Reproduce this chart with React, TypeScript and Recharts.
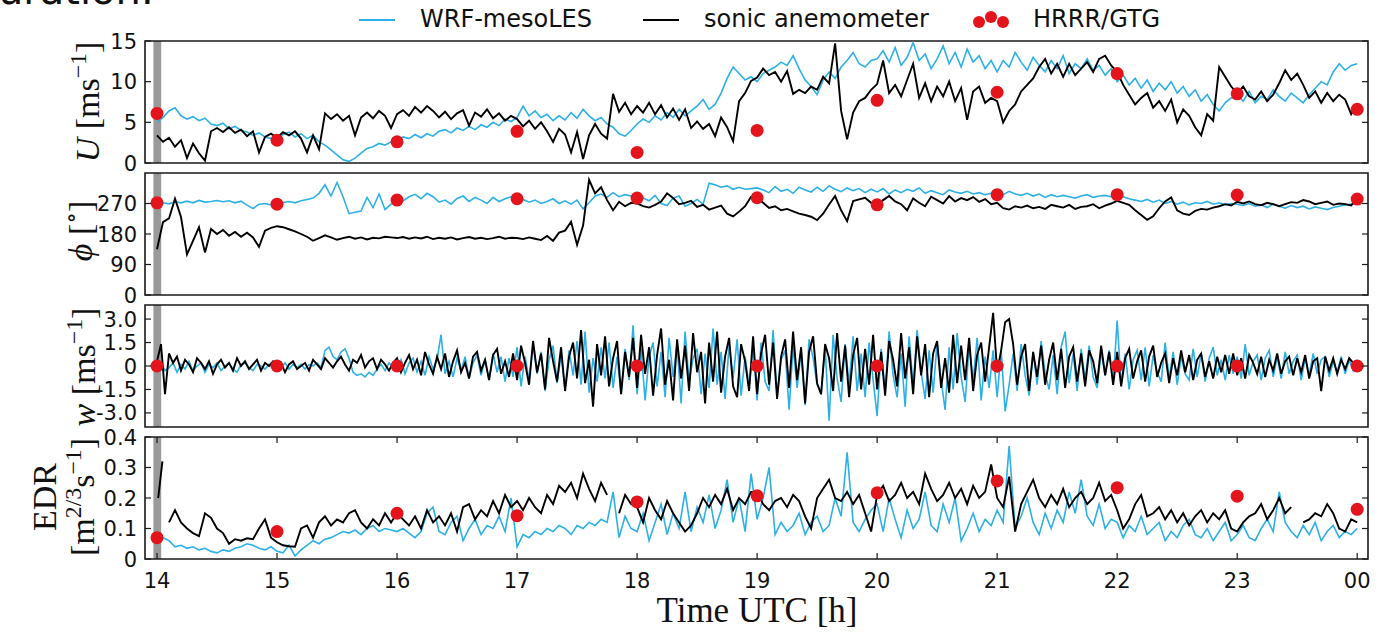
import React from "react";
import { ComposedChart, Line, Scatter, XAxis, YAxis, ReferenceArea } from "recharts";

// hours on the shared time axis (24 is printed as "00")
const HOURS = [14, 15, 16, 17, 18, 19, 20, 21, 22, 23, 24];

// U [m/s], 3-minute steps from 14:00 to 24:00 (one row per hour)
const U_WRF = [
  5.0, 5.6, 6.4, 6.8, 5.8, 5.4, 5.7, 5.2, 5.5, 4.8, 4.6, 4.9, 4.2, 4.5, 4.0, 3.8, 3.4, 3.7, 3.2, 3.0,
  2.9, 3.5, 3.8, 3.2, 3.6, 3.0, 3.4, 2.6, 2.2, 1.6, 1.0, 0.4, 0.2, 0.6, 1.2, 1.8, 2.0, 2.4, 2.2, 2.6,
  2.8, 3.2, 3.0, 3.5, 3.1, 3.6, 3.3, 3.9, 4.1, 3.7, 4.3, 4.0, 4.5, 4.1, 4.7, 4.4, 5.0, 4.6, 5.4, 5.1,
  5.6, 7.0, 5.8, 6.4, 5.6, 6.0, 5.2, 5.8, 5.3, 6.2, 5.5, 6.6, 5.8, 5.2, 5.6, 4.8, 4.4, 3.6, 3.3, 4.0,
  4.8, 5.4, 5.0, 5.8, 5.3, 6.2, 5.6, 6.6, 5.8, 6.4, 7.0, 7.8, 6.6, 7.2, 8.6, 10.4, 11.8, 11.0, 10.2, 10.6,
  10.0, 11.0, 11.4, 11.8, 12.4, 12.0, 13.2, 11.6, 10.2, 9.4, 8.4, 10.2, 11.2, 10.4, 11.8, 12.6, 13.6, 12.2, 11.8, 12.6,
  12.8, 13.8, 12.4, 14.2, 12.0, 13.0, 14.8, 12.6, 13.4, 11.6, 12.8, 14.4, 12.2, 13.6, 11.8, 14.0, 12.4, 13.2, 11.6, 12.6,
  11.2, 12.6, 11.8, 13.6, 12.4, 11.4, 13.0, 12.0, 11.2, 12.6, 11.6, 13.2, 11.0, 12.2, 11.6, 12.8, 11.4, 12.0, 10.8, 11.6,
  10.0, 10.8, 9.6, 10.4, 9.2, 10.2, 8.8, 9.8, 9.0, 10.0, 8.6, 9.4, 8.2, 9.0, 7.6, 8.4, 7.2, 6.4, 7.4, 8.0,
  8.4, 7.6, 8.8, 7.4, 8.2, 7.8, 9.0, 8.2, 7.6, 8.6, 8.0, 7.4, 8.4, 9.2, 10.0, 9.6, 11.2, 12.2, 11.4, 12.0,
  12.2,
];
const U_SONIC = [
  3.4, 2.6, 3.1, 2.0, 2.8, 0.6, 2.4, 1.2, 0.3, 3.9, 4.3, 3.8, 4.4, 3.7, 4.1, 3.3, 3.9, 1.3, 3.2, 3.6,
  3.1, 3.8, 3.4, 3.9, 3.0, 1.3, 3.4, 1.7, 6.1, 5.4, 6.0, 5.2, 5.8, 3.4, 5.6, 6.2, 5.5, 6.4, 5.8, 4.3,
  6.0, 6.5, 5.8, 6.9, 6.2, 7.0, 6.4, 5.6, 6.3, 5.4, 6.1, 6.5, 4.6, 6.2, 5.7, 6.6, 5.5, 6.1, 5.2, 5.8,
  5.4, 4.5, 5.2, 4.2, 5.0, 3.9, 2.6, 4.2, 3.5, 1.3, 3.8, 0.5, 3.4, 4.8, 3.6, 3.0, 8.5, 6.3, 7.4, 6.0,
  7.0, 6.2, 7.4, 6.0, 7.1, 5.6, 6.7, 5.3, 6.6, 4.3, 5.1, 4.2, 4.8, 3.3, 5.6, 4.4, 2.7, 7.6, 8.6, 10.1,
  10.5, 11.6, 10.8, 11.2, 10.0, 11.3, 8.5, 9.0, 8.6, 9.4, 9.0, 10.6, 9.8, 14.7, 6.4, 2.9, 6.2, 7.6, 8.0, 9.0,
  9.7, 12.6, 8.6, 9.6, 8.2, 10.2, 12.2, 8.0, 9.8, 7.6, 9.4, 8.2, 10.0, 7.6, 9.2, 5.3, 8.8, 9.4, 7.4, 8.0,
  7.6, 5.0, 6.4, 7.2, 8.8, 9.6, 10.4, 11.8, 12.8, 11.0, 12.2, 10.6, 12.2, 10.8, 11.6, 12.4, 11.2, 12.8, 13.2, 12.0,
  11.2, 9.6, 8.4, 7.2, 8.0, 8.6, 6.8, 7.6, 6.4, 7.8, 5.0, 6.6, 5.8, 4.4, 3.4, 6.0, 5.2, 11.8, 10.6, 9.4,
  8.6, 9.4, 8.2, 7.8, 8.8, 7.6, 8.4, 9.8, 11.4, 10.2, 11.0, 9.6, 8.0, 8.8, 7.4, 8.6, 7.6, 8.4, 7.8, 6.0,
  7.2,
];

// wind direction [deg], 3-minute steps
const PHI_WRF = [
  267, 272, 269, 275, 272, 277, 272, 279, 274, 276, 279, 275, 278, 272, 277, 265, 255, 268, 270, 266,
  270, 273, 276, 272, 278, 282, 286, 300, 325, 292, 332, 290, 240, 244, 248, 288, 258, 298, 252, 268,
  282, 278, 290, 297, 284, 300, 290, 274, 280, 268, 285, 292, 276, 288, 280, 270, 288, 276, 284, 290,
  290, 282, 274, 280, 270, 276, 284, 270, 278, 268, 280, 254, 272, 292, 298, 288, 302, 290, 296, 292,
  292, 286, 278, 294, 270, 264, 286, 292, 262, 270, 282, 268, 330, 325, 318, 322, 312, 318, 312, 314,
  316, 310, 302, 320, 306, 312, 300, 318, 310, 304, 318, 306, 322, 312, 305, 316, 308, 314, 302, 312,
  304, 314, 298, 310, 302, 312, 306, 316, 300, 308, 302, 296, 310, 304, 300, 306, 298, 302, 296, 300,
  302, 296, 306, 298, 294, 300, 292, 298, 288, 296, 290, 294, 290, 286, 292, 296, 288, 292, 294, 290,
  294, 290, 284, 280, 276, 282, 274, 280, 270, 276, 268, 274, 266, 272, 270, 276, 268, 272, 266, 270,
  268, 264, 270, 262, 266, 258, 268, 262, 256, 264, 258, 262, 254, 260, 256, 252, 258, 262, 266, 268,
  268,
];
const PHI_SONIC = [
  135, 215, 226, 284, 230, 120, 160, 200, 125, 195, 180, 192, 175, 186, 172, 184, 170, 142, 190, 198,
  203, 200, 194, 188, 180, 172, 160, 168, 176, 170, 163, 168, 172, 166, 170, 164, 169, 167, 172, 170,
  168, 171, 166, 170, 167, 172, 165, 169, 166, 170, 164, 168, 171, 166, 169, 165, 168, 172, 166, 169,
  168, 165, 170, 166, 162, 174, 160, 184, 190, 216, 148, 205, 340, 300, 318, 280, 250, 275, 262, 272,
  270, 262, 258, 266, 276, 300, 286, 268, 272, 278, 260, 266, 252, 258, 264, 240, 232, 246, 262, 290,
  287, 272, 257, 262, 250, 254, 247, 240, 236, 231, 221, 240, 267, 292, 250, 218, 277, 282, 287, 272,
  264, 280, 292, 276, 268, 250, 285, 272, 262, 290, 280, 270, 292, 276, 286, 280, 289, 275, 283, 268,
  272, 256, 252, 262, 258, 264, 256, 260, 254, 266, 262, 258, 266, 254, 260, 262, 268, 256, 264, 270,
  278, 272, 266, 250, 236, 222, 232, 256, 276, 288, 250, 240, 236, 248, 254, 252, 258, 262, 268, 264,
  275, 270, 276, 268, 265, 272, 268, 262, 268, 274, 272, 280, 276, 268, 272, 276, 266, 270, 268, 264,
  288,
];

// vertical velocity w [m/s], 2-minute steps
const W_WRF = [
  -0.1, 0.2, -0.3, -0.1, 0.2, -0.4, 0.1, -0.2, 0.3, -0.3, 0.0, 0.2, -0.4, 0.1, -0.1, 0.2, -0.3, 0.0, 0.2, -0.2, -0.4, 0.1, 0.2, -0.1, -0.3, 0.1, 0.0, -0.2, 0.1, -0.1,
  0.0, -0.1, 0.2, -0.2, 0.1, -0.1, 0.1, -0.2, 0.1, 0.0, 0.2, -0.1, 1.0, 1.2, 0.6, 0.4, 0.9, 1.1, 0.5, -0.4, -0.6, -0.5, -0.7, -0.4, -0.6, -0.2, 0.1, -0.3, 0.2, -0.1,
  -0.2, 0.4, -0.5, 0.2, 0.5, -0.4, 0.3, -0.6, 0.6, -0.2, 0.4, 2.0, -0.5, 0.3, -0.7, 0.5, -0.3, 0.6, -0.8, 0.2, 0.7, -0.6, 0.4, -0.9, 0.8, -0.4, 0.6, -1.0, 0.5, -0.7,
  1.2, -1.3, 0.6, -0.9, 1.4, -0.5, 0.9, -1.6, 0.4, 1.3, -1.1, 0.7, -1.5, 1.0, -0.6, 1.6, -1.2, 2.2, -1.7, 0.5, -1.0, 1.2, -0.8, 1.5, -1.4, 0.6, -1.8, 1.1, -0.9, 2.6,
  -1.8, 1.1, -2.2, 0.6, 1.5, -1.3, 0.9, -2.0, 1.8, -0.7, 1.4, -2.4, 2.2, -1.0, 0.5, 1.1, -1.8, 0.8, -1.4, 2.4, -1.2, 0.9, -2.1, 1.3, -0.8, 1.7, -1.9, 0.6, -1.3, 1.2,
  -2.2, 1.5, -1.0, -1.6, 2.3, -1.9, 0.4, 1.0, -2.8, 1.3, -1.4, 0.9, -2.5, 1.7, 0.5, -1.2, -1.7, 1.2, -3.5, 2.0, -0.8, -2.3, 1.4, -1.2, 1.9, -1.6, 0.8, -2.0, 1.5, -0.9,
  -3.2, 1.1, -1.6, 2.2, -0.6, -2.0, 0.8, -2.6, 1.9, -1.3, 2.3, -0.4, -2.1, 1.0, -1.7, 1.5, -0.9, -2.8, 1.2, -1.5, 2.1, -0.7, -2.3, 1.3, -1.0, 1.8, -2.2, 0.6, -1.4, 1.0,
  -2.0, 1.0, -2.9, -1.2, 0.8, -1.6, 1.4, -0.6, -1.9, 0.9, -1.2, 1.6, -0.5, -1.5, 0.7, -1.8, 1.2, 2.2, -1.1, 0.8, -1.6, 1.1, -0.9, 1.3, -0.7, -1.4, 0.9, -0.6, 1.0, -1.1,
  2.9, -1.2, 0.8, -1.5, 0.4, 1.0, -0.9, 1.2, -1.3, 0.7, -0.4, -1.0, 1.5, -0.8, 0.9, -1.2, 0.6, -0.5, -0.9, 1.1, -0.7, 0.8, -1.0, 0.5, 1.2, -0.6, 0.4, -0.9, 0.7, -0.5,
  0.6, -0.8, 1.4, -0.6, 0.3, 0.7, -0.9, 0.5, 1.0, -0.7, 0.6, -0.8, 0.9, -0.5, 0.3, 0.7, -0.9, 0.5, -0.6, 0.8, -0.5, 0.4, 0.6, -0.7, 0.3, -0.4, 0.6, -0.5, 0.4, -0.3,
  0.2,
];
const W_SONIC = [
  0.3, 1.4, -1.8, 0.8, 0.2, 0.6, -0.3, 0.4, 0.1, -0.4, 0.5, 0.2, -0.2, 0.3, -0.5, 0.1, 0.4, -0.1, 0.2, -0.3, 0.5, 0.0, 0.3, -0.2, 0.1, 0.4, -0.3, 0.2, 0.0, 0.3,
  -0.1, 0.2, -0.4, 0.1, 0.3, -0.2, 0.0, 0.2, -0.3, 0.4, 0.1, -0.2, 0.5, 0.2, -0.1, 0.3, 0.6, 0.1, -0.3, 0.4, 0.2, 0.7, -0.1, 0.3, 0.5, -0.2, 0.4, 0.1, -0.3, 0.2,
  0.5, -0.4, 0.2, 0.7, -0.2, 0.4, -0.6, 0.9, 0.1, -0.5, 0.6, -0.2, 0.8, -0.7, 0.3, 1.0, -0.4, 0.2, -0.8, 0.6, 0.9, -0.3, 0.4, -0.9, 0.7, 1.1, -0.5, 0.3, -0.7, 0.8,
  -0.9, 1.3, 0.2, -1.2, 1.6, -0.4, 0.8, -1.5, 1.8, 0.3, -1.0, 1.2, -1.6, 0.6, 1.5, -0.8, 2.3, -1.1, 0.4, -2.6, 1.4, -0.6, 1.9, -1.3, 0.5, 1.6, -1.8, 0.9, -0.7, 1.8,
  -1.4, 2.0, -0.5, 1.2, -1.9, 0.7, 2.4, -1.2, 0.4, -2.2, 1.7, -0.8, 1.3, -1.6, 2.1, -0.4, 0.9, -2.4, 1.5, -1.0, 2.2, -1.7, 0.6, 1.8, -1.3, -2.0, 1.4, 0.3, -1.6, 1.9,
  -1.8, 0.8, 2.0, -1.2, 1.5, -2.1, 0.6, 1.7, -1.4, 2.2, -0.9, 1.2, -2.4, 0.9, 1.9, -1.1, -1.8, 1.4, 0.5, -1.6, 2.1, -1.0, 1.3, -2.0, 0.7, 1.8, -1.5, 1.1, -1.2, 2.0,
  -1.5, 0.9, -1.9, 1.6, 0.4, -1.3, 2.1, -0.8, 1.2, -1.8, 1.9, -0.6, 1.4, -2.0, 0.8, 1.6, -1.4, 0.5, -1.7, 2.0, -1.1, 1.3, -0.9, 1.8, -1.6, 0.7, 1.5, -1.0, 1.2, 3.4,
  -0.4, 1.0, 2.8, 3.0, 1.4, -1.2, 0.6, 1.4, -1.6, 0.9, -0.7, 1.3, -1.2, 0.4, 1.5, -0.9, 1.1, -1.4, 0.6, 1.2, -1.0, 0.8, -1.3, 1.0, 0.3, -1.1, 1.3, -0.6, 0.9, -1.2,
  0.9, -1.3, 0.5, 1.1, -0.8, 0.3, 1.0, -1.0, 0.6, 1.3, -0.7, 0.2, 0.8, -1.1, 0.5, -0.6, 1.0, -0.4, 0.7, -0.9, 0.4, 0.8, -0.7, 0.3, -0.8, 0.6, -0.4, 0.7, -0.5, 0.8,
  -0.6, 0.5, -0.8, 0.7, 0.2, -0.5, 0.6, -0.7, 0.4, -0.3, 0.8, -0.5, 0.3, 0.6, -0.6, 0.5, -0.4, 0.7, -0.8, 0.3, 0.5, -1.6, 0.6, -0.3, 0.5, -0.5, 0.4, -0.2, 0.5, 0.2,
  0.1,
];

// EDR [m^2/3 s^-1], 3-minute steps (null = gap in the record)
const EDR_WRF = [
  0.05, 0.07, 0.06, 0.04, 0.045, 0.035, 0.04, 0.03, 0.035, 0.025, 0.02, 0.03, 0.025, 0.035, 0.04, 0.05, 0.045, 0.035, 0.03, 0.04,
  0.025, 0.02, 0.045, 0.01, 0.03, 0.045, 0.06, 0.05, 0.065, 0.07, 0.08, 0.09, 0.085, 0.095, 0.08, 0.1, 0.11, 0.09, 0.1, 0.095,
  0.09, 0.1, 0.085, 0.07, 0.09, 0.15, 0.17, 0.09, 0.08, 0.12, 0.14, 0.06, 0.1, 0.13, 0.08, 0.11, 0.1, 0.14, 0.09, 0.2,
  0.04, 0.08, 0.07, 0.09, 0.08, 0.1, 0.09, 0.11, 0.1, 0.08, 0.11, 0.1, 0.12, 0.11, 0.13, 0.12, 0.22, 0.07, 0.14, 0.1,
  0.09, 0.15, 0.06, 0.12, 0.18, 0.08, 0.15, 0.1, 0.22, 0.09, 0.17, 0.12, 0.21, 0.1, 0.16, 0.26, 0.12, 0.2, 0.09, 0.28,
  0.13, 0.2, 0.3, 0.08, 0.12, 0.09, 0.11, 0.15, 0.08, 0.12, 0.14, 0.09, 0.11, 0.2, 0.14, 0.35, 0.12, 0.09, 0.13, 0.16,
  0.18, 0.09, 0.2, 0.13, 0.07, 0.16, 0.1, 0.13, 0.22, 0.11, 0.09, 0.18, 0.12, 0.2, 0.06, 0.1, 0.15, 0.09, 0.13, 0.11,
  0.16, 0.12, 0.37, 0.1, 0.14, 0.2, 0.12, 0.08, 0.15, 0.1, 0.16, 0.12, 0.22, 0.15, 0.26, 0.14, 0.11, 0.18, 0.1, 0.13,
  0.12, 0.07, 0.11, 0.09, 0.14, 0.08, 0.1, 0.12, 0.06, 0.09, 0.07, 0.11, 0.13, 0.08, 0.07, 0.1, 0.06, 0.09, 0.12, 0.06,
  0.08, 0.11, 0.07, 0.06, 0.1, 0.13, 0.09, 0.22, 0.12, 0.09, 0.07, 0.11, 0.08, 0.12, 0.06, 0.09, 0.11, 0.07, 0.09, 0.08,
  0.1,
];
const EDR_SONIC = [
  null, null, 0.12, 0.16, 0.12, 0.1, 0.085, 0.075, 0.15, 0.135, 0.1, 0.085, 0.05, 0.065, 0.06, 0.068, 0.065, 0.1, 0.13, 0.07,
  0.055, 0.045, 0.042, 0.04, 0.1, 0.11, 0.07, 0.12, 0.14, 0.11, 0.13, 0.12, 0.15, 0.16, 0.12, 0.1, 0.13, 0.11, 0.15, 0.12,
  0.15, 0.13, 0.11, 0.14, 0.1, 0.16, 0.12, 0.14, 0.11, 0.15, 0.09, 0.17, 0.18, 0.13, 0.16, 0.14, 0.19, 0.15, 0.21, 0.17,
  0.19, 0.16, 0.2, 0.17, 0.15, 0.21, 0.18, 0.24, 0.22, 0.25, 0.2, 0.28, 0.23, 0.19, 0.25, 0.21, null, 0.15, 0.21, 0.18,
  0.17, 0.12, 0.2, 0.16, 0.13, 0.19, 0.15, 0.12, 0.09, 0.11, 0.15, 0.2, 0.17, 0.21, 0.18, 0.23, 0.16, 0.2, 0.18, 0.22,
  0.22, 0.18, 0.16, 0.19, 0.2, 0.17, 0.21, 0.19, 0.14, 0.1, 0.2, 0.23, 0.26, 0.2, 0.19, 0.22, 0.18, 0.21, 0.15, 0.09,
  0.21, 0.24, 0.19, 0.21, 0.25, 0.2, 0.22, 0.18, 0.28, 0.23, 0.19, 0.21, 0.25, 0.2, 0.23, 0.18, 0.24, 0.2, 0.22, 0.31,
  0.2, 0.17, 0.27, 0.09, 0.18, 0.22, 0.26, 0.2, 0.17, 0.21, 0.18, 0.23, 0.17, 0.2, 0.22, 0.18, 0.2, 0.25, 0.19, 0.21,
  0.16, 0.1, 0.13, 0.18, 0.21, 0.14, 0.15, 0.17, 0.13, 0.16, 0.12, 0.15, 0.11, 0.14, 0.16, 0.12, 0.15, 0.13, 0.16, 0.1,
  0.09, 0.12, 0.14, 0.15, 0.18, 0.13, 0.16, 0.2, 0.15, 0.17, null, 0.12, 0.13, 0.15, 0.14, 0.18, 0.15, 0.1, 0.09, 0.13,
  0.12,
];
// short sonic EDR segment inside the grey spin-up band
const EDR_SONIC_START_T = [14.01, 14.045];
const EDR_SONIC_START = [0.2, 0.32];

// HRRR/GTG hourly values
const HRRR_U = [6.1, 2.8, 2.6, 3.9, 1.3, 4.0, 7.7, 8.7, 11.0, 8.5, 6.6];
const HRRR_PHI = [272, 268, 280, 284, 286, 287, 266, 296, 296, 295, 283];
const HRRR_W = [0, 0, 0, 0, 0, 0, 0, 0, 0, 0, 0];
const HRRR_EDR = [0.07, 0.09, 0.15, 0.142, 0.187, 0.207, 0.217, 0.256, 0.234, 0.206, 0.163];

const BLUE = "#2cb0e6";
const RED = "#e3141b";
const INK = "#1a1a1a";
const X_DOMAIN: [number, number] = [13.9, 24.09];
const BAND: [number, number] = [13.97, 14.035];
const CHART_W = 1383;
const Y_AXIS_W = 145;
const M_RIGHT = 15;
const PLOT_W = CHART_W - Y_AXIS_W - M_RIGHT;
const PLOT_H = 122;
const M_TOP = 14;
const X_MARGIN = 12;
const Y_MARGIN = 8;
const TICK_LEN = 6;
const TICK_FONT = 21;

const rowsOf = (a: (number | null)[], b: (number | null)[], perHour: number) =>
  a.map((v, i) => ({ t: 14 + i / perHour, wrf: v, sonic: b[i] }));
const hourly = (vals: number[]) => HOURS.map((h, i) => ({ t: h, v: vals[i] }));

const fmtHour = (h: number) => (h === 24 ? "00" : String(h));
const fmt1 = (v: number) => (v === 0 ? "0" : v.toFixed(1));

const redDot = (p: any) => <circle cx={p.cx} cy={p.cy} r={6.5} fill={RED} />;

// bottom tick: inward marks at bottom and top of the frame, optional label
const makeXTick = (showLabel: boolean) => (p: any) => {
  const { x, y, payload } = p;
  const base = y - X_MARGIN;
  return (
    <g>
      <line x1={x} x2={x} y1={base} y2={base - TICK_LEN} stroke={INK} strokeWidth={1.2} />
      <line x1={x} x2={x} y1={base - PLOT_H} y2={base - PLOT_H + TICK_LEN} stroke={INK} strokeWidth={1.2} />
      {showLabel && (
        <text x={x} y={y} dy="0.8em" textAnchor="middle" fontSize={TICK_FONT} fill="#111" fontFamily="DejaVu Sans">
          {fmtHour(payload.value)}
        </text>
      )}
    </g>
  );
};

// left tick: label plus inward marks on the left and right of the frame
const makeYTick = (fmt: (v: number) => string) => (p: any) => {
  const { x, y, payload } = p;
  const left = x + Y_MARGIN;
  return (
    <g>
      <line x1={left} x2={left + TICK_LEN} y1={y} y2={y} stroke={INK} strokeWidth={1.2} />
      <line x1={left + PLOT_W} x2={left + PLOT_W - TICK_LEN} y1={y} y2={y} stroke={INK} strokeWidth={1.2} />
      <text x={x} y={y} dy="0.36em" textAnchor="end" fontSize={TICK_FONT} fill="#111" fontFamily="DejaVu Sans">
        {fmt(payload.value)}
      </text>
    </g>
  );
};

interface PanelProps {
  rows: Record<string, number | null>[];
  dots: { t: number; v: number }[];
  top: number;
  domain: [number, number];
  yTicks: number[];
  yFmt: (v: number) => string;
  last?: boolean;
  extra?: { t: number; v: number }[];
}

function Panel({ rows, dots, top, domain, yTicks, yFmt, last, extra }: PanelProps) {
  const bottomH = last ? 44 : 0;
  const height = M_TOP + PLOT_H + (last ? bottomH : 14);
  return (
    <div style={{ position: "absolute", left: 0, top: top - M_TOP }}>
      <ComposedChart
        width={CHART_W}
        height={height}
        data={rows}
        margin={{ top: M_TOP, right: M_RIGHT, bottom: last ? 0 : 14, left: 0 }}
      >
        <XAxis
          xAxisId="b"
          dataKey="t"
          type="number"
          domain={X_DOMAIN}
          allowDataOverflow
          ticks={HOURS}
          interval={0}
          tick={makeXTick(!!last)}
          tickLine={false}
          tickSize={0}
          tickMargin={X_MARGIN}
          axisLine={false}
          height={bottomH}
        />
        <YAxis
          yAxisId="l"
          type="number"
          domain={domain}
          allowDataOverflow
          ticks={yTicks}
          interval={0}
          tick={makeYTick(yFmt)}
          tickLine={false}
          tickSize={0}
          tickMargin={Y_MARGIN}
          axisLine={false}
          width={Y_AXIS_W}
        />
        <ReferenceArea
          xAxisId="b"
          yAxisId="l"
          x1={BAND[0]}
          x2={BAND[1]}
          fill="#9a9a9a"
          fillOpacity={1}
          stroke="none"
        />
        <Line
          xAxisId="b"
          yAxisId="l"
          type="linear"
          dataKey="wrf"
          stroke={BLUE}
          strokeWidth={1.6}
          dot={false}
          isAnimationActive={false}
        />
        <Line
          xAxisId="b"
          yAxisId="l"
          type="linear"
          dataKey="sonic"
          stroke="#000"
          strokeWidth={1.9}
          dot={false}
          isAnimationActive={false}
        />
        {extra && (
          <Line
            xAxisId="b"
            yAxisId="l"
            data={extra}
            type="linear"
            dataKey="v"
            stroke="#000"
            strokeWidth={1.9}
            dot={false}
            isAnimationActive={false}
          />
        )}
        <Scatter
          xAxisId="b"
          yAxisId="l"
          data={dots}
          dataKey="v"
          shape={redDot}
          isAnimationActive={false}
        />
        {/* panel frame */}
        <ReferenceArea
          xAxisId="b"
          yAxisId="l"
          x1={X_DOMAIN[0]}
          x2={X_DOMAIN[1]}
          y1={domain[0]}
          y2={domain[1]}
          fill="none"
          fillOpacity={0}
          stroke={INK}
          strokeWidth={1.6}
        />
      </ComposedChart>
    </div>
  );
}

const serif = "'Liberation Serif', 'DejaVu Serif', serif";
const sans = "'DejaVu Sans', sans-serif";

function VLabel({ cx, cy, children }: { cx: number; cy: number; children: React.ReactNode }) {
  return (
    <div
      style={{
        position: "absolute",
        left: cx,
        top: cy,
        transform: "translate(-50%, -50%) rotate(-90deg)",
        whiteSpace: "nowrap",
        fontFamily: serif,
        fontSize: 34,
        lineHeight: "38px",
        textAlign: "center",
        color: "#111",
      }}
    >
      {children}
    </div>
  );
}

const sup = { fontSize: "0.7em", verticalAlign: "0.55em", lineHeight: 0 } as const;

export default function App() {
  const edrStart = EDR_SONIC_START_T.map((t, i) => ({ t, v: EDR_SONIC_START[i] }));
  return (
    <div
      style={{
        position: "absolute",
        left: 0,
        top: 0,
        width: 1383,
        height: 634,
        background: "#fff",
        overflow: "hidden",
      }}
    >
      {/* tail of the caption above, cut by the crop */}
      <div
        style={{
          position: "absolute",
          left: -2,
          top: -30,
          fontFamily: sans,
          fontSize: 40,
          lineHeight: "40px",
          color: "#111",
        }}
      >
        uration.
      </div>

      {/* legend */}
      <div style={{ position: "absolute", left: 0, top: 0, width: 1383, height: 40, fontFamily: sans, fontSize: 24, color: "#111" }}>
        <svg width={1383} height={40} style={{ position: "absolute", left: 0, top: 0 }}>
          <line x1={359} x2={395} y1={20} y2={20} stroke={BLUE} strokeWidth={2} />
          <line x1={643} x2={679} y1={20} y2={20} stroke="#000" strokeWidth={2} />
          <circle cx={979} cy={22} r={6} fill={RED} />
          <circle cx={991} cy={17} r={6} fill={RED} />
          <circle cx={1003} cy={22} r={6} fill={RED} />
        </svg>
        <span style={{ position: "absolute", left: 420, top: 5, lineHeight: "28px" }}>WRF-mesoLES</span>
        <span style={{ position: "absolute", left: 704, top: 5, lineHeight: "28px" }}>sonic anemometer</span>
        <span style={{ position: "absolute", left: 1033, top: 5, lineHeight: "28px" }}>HRRR/GTG</span>
      </div>

      <Panel rows={rowsOf(U_WRF, U_SONIC, 20)} dots={hourly(HRRR_U)} top={41} domain={[0, 15]} yTicks={[0, 5, 10, 15]} yFmt={String} />
      <Panel rows={rowsOf(PHI_WRF, PHI_SONIC, 20)} dots={hourly(HRRR_PHI)} top={173} domain={[0, 360]} yTicks={[0, 90, 180, 270]} yFmt={String} />
      <Panel rows={rowsOf(W_WRF, W_SONIC, 30)} dots={hourly(HRRR_W)} top={305} domain={[-3.9, 3.9]} yTicks={[-3, -1.5, 0, 1.5, 3]} yFmt={fmt1} />
      <Panel
        rows={rowsOf(EDR_WRF, EDR_SONIC, 20)}
        dots={hourly(HRRR_EDR)}
        top={437}
        domain={[0, 0.4]}
        yTicks={[0, 0.1, 0.2, 0.3, 0.4]}
        yFmt={fmt1}
        last
        extra={edrStart}
      />

      {/* y-axis titles */}
      <VLabel cx={88} cy={102}>
        <i>U</i> [ms<span style={sup}>−1</span>]
      </VLabel>
      <VLabel cx={81} cy={231}>
        <i>ϕ</i> [<span style={sup}>∘</span>]
      </VLabel>
      <VLabel cx={84} cy={367}>
        <i>w</i> [ms<span style={sup}>−1</span>]
      </VLabel>
      <VLabel cx={64} cy={497}>
        <div>EDR</div>
        <div>
          [m<span style={sup}>2/3</span>s<span style={sup}>−1</span>]
        </div>
      </VLabel>

      {/* x-axis title */}
      <div
        style={{
          position: "absolute",
          left: 757,
          top: 611,
          transform: "translate(-50%, -50%)",
          fontFamily: serif,
          fontSize: 35,
          whiteSpace: "nowrap",
          color: "#111",
        }}
      >
        Time UTC [h]
      </div>
    </div>
  );
}
